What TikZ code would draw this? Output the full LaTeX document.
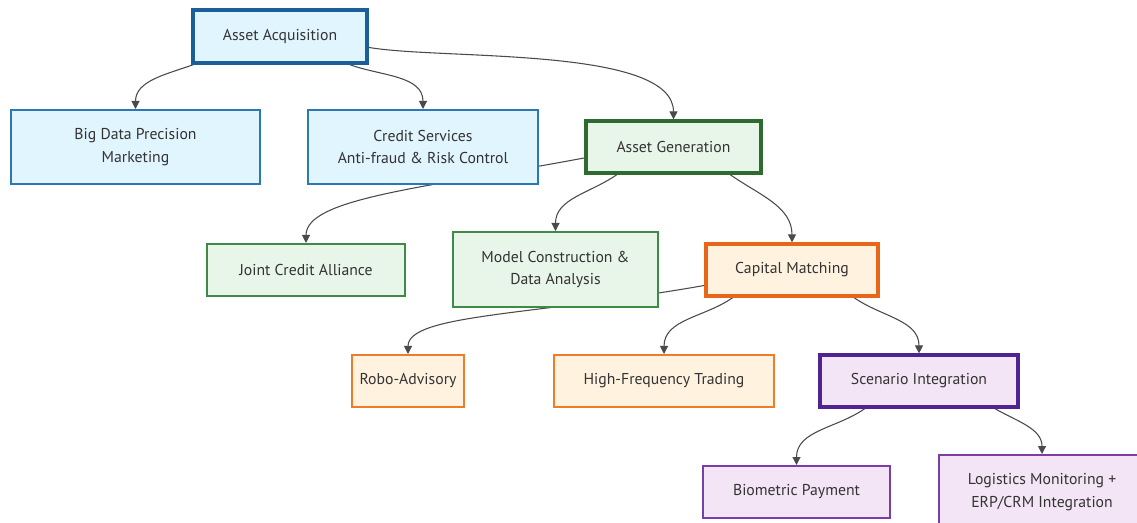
\documentclass[tikz,border=0pt]{standalone}
\usepackage{fontspec}
\setmainfont{PT Sans}
\usetikzlibrary{arrows.meta,backgrounds}

\definecolor{txtgray}{HTML}{333333}
\definecolor{linkgray}{HTML}{4A4A4A}
\definecolor{bluefill}{HTML}{E1F5FE}
\definecolor{bluedark}{HTML}{1A5E9A}
\definecolor{bluethin}{HTML}{2A79B5}
\definecolor{greenfill}{HTML}{E8F5E9}
\definecolor{greendark}{HTML}{2E6B2F}
\definecolor{greenthin}{HTML}{3F8A44}
\definecolor{orangefill}{HTML}{FFF3E0}
\definecolor{orangedark}{HTML}{E8661A}
\definecolor{orangethin}{HTML}{EE7D2B}
\definecolor{purplefill}{HTML}{F3E5F5}
\definecolor{purpledark}{HTML}{4F2391}
\definecolor{purplethin}{HTML}{7A3DAA}

\begin{document}
\begin{tikzpicture}[x=0.75pt,y=-0.75pt,
    box/.style={draw,rectangle,align=center,text=txtgray,font=\fontsize{11.8}{17}\selectfont,line width=1.5pt,inner sep=0pt},
    mainbox/.style={box,line width=2.4pt},
    bluebox/.style={fill=bluefill,draw=bluethin},
    greenbox/.style={fill=greenfill,draw=greenthin},
    orangebox/.style={fill=orangefill,draw=orangethin},
    purplebox/.style={fill=purplefill,draw=purplethin},
    link/.style={draw=linkgray,line width=0.8pt,-{Triangle[length=6pt,width=6pt]}}]
  \useasboundingbox (0,0) rectangle (1137,523);

  % Level 1
  \node[mainbox,bluebox,draw=bluedark,minimum width=130.5pt,minimum height=39.75pt] (acquisition) at (280,36.5) {Asset Acquisition};

  % Level 2
  \node[box,bluebox,minimum width=186.75pt,minimum height=55.5pt] (marketing) at (135.5,147) {Big Data Precision\\Marketing};
  \node[box,bluebox,minimum width=172.5pt,minimum height=55.5pt] (credit) at (423,147) {Credit Services\\Anti-fraud \& Risk Control};
  \node[mainbox,greenbox,draw=greendark,minimum width=131.25pt,minimum height=39pt] (generation) at (673.5,147) {Asset Generation};

  % Level 3
  \node[box,greenbox,minimum width=148.5pt,minimum height=39pt] (alliance) at (306,270) {Joint Credit Alliance};
  \node[box,greenbox,minimum width=153.75pt,minimum height=56.25pt] (model) at (555.5,269.5) {Model Construction \&\\Data Analysis};
  \node[mainbox,orangebox,draw=orangedark,minimum width=129pt,minimum height=39pt] (matching) at (792,270) {Capital Matching};

  % Level 4
  \node[box,orangebox,minimum width=84pt,minimum height=39pt] (robo) at (408,381) {Robo-Advisory};
  \node[box,orangebox,minimum width=165pt,minimum height=39pt] (hft) at (664,381) {High-Frequency Trading};
  \node[mainbox,purplebox,draw=purpledark,minimum width=148.5pt,minimum height=39pt] (scenario) at (919,381) {Scenario Integration};

  % Level 5
  \node[box,purplebox,minimum width=140.25pt,minimum height=39pt] (payment) at (796.5,492) {Biometric Payment};
  \node[box,purplebox,minimum width=154.5pt,minimum height=55.5pt] (logistics) at (1042,492) {Logistics Monitoring +\\ERP/CRM Integration};

  % Links (behind the boxes)
  \begin{scope}[on background layer]
    \draw[link] (acquisition.198) to[out=200,in=90] (marketing.north);
    \draw[link] (acquisition.-22) to[out=-20,in=90] (credit.north);
    \draw[link] (acquisition.-7) to[out=-10,in=90,looseness=0.6] (generation.north);
    \draw[link] (generation.187) .. controls +(-160,30) and +(0,-45) .. (alliance.north);
    \draw[link] (generation.206) to[out=215,in=90] (model.north);
    \draw[link] (generation.-26) to[out=-35,in=90] (matching.north);
    \draw[link] (matching.190) .. controls +(-170,30) and +(0,-40) .. (robo.north);
    \draw[link] (matching.205) to[out=215,in=90] (hft.north);
    \draw[link] (matching.-24) to[out=-35,in=90] (scenario.north);
    \draw[link] (scenario.207) to[out=215,in=90] (payment.north);
    \draw[link] (scenario.-20) to[out=-30,in=90] (logistics.north);
  \end{scope}
\end{tikzpicture}
\end{document}
